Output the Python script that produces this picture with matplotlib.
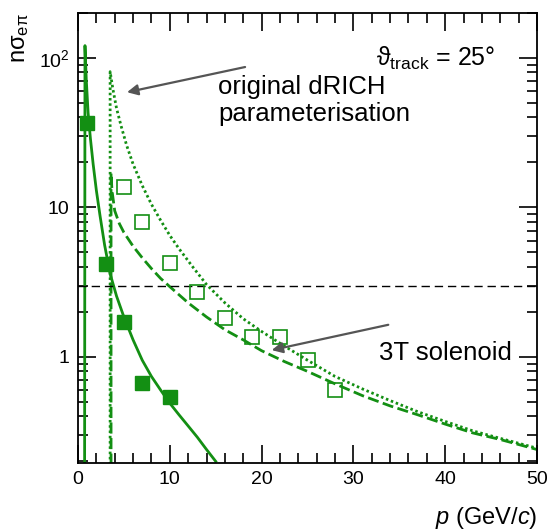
import matplotlib
matplotlib.use("Agg")
import matplotlib.pyplot as plt
from matplotlib.ticker import MultipleLocator, LogLocator, NullFormatter, FixedLocator, FixedFormatter

plt.rcParams['font.family'] = ['Liberation Sans', 'DejaVu Sans']
plt.rcParams['mathtext.fontset'] = 'custom'
plt.rcParams['mathtext.rm'] = 'Liberation Sans'
plt.rcParams['mathtext.it'] = 'Liberation Sans:italic'
plt.rcParams['mathtext.bf'] = 'Liberation Sans:bold'
plt.rcParams['mathtext.default'] = 'regular'

# solid curve (3T solenoid, lower threshold)
solid_p = [0.72, 0.76, 0.9, 1.1, 1.35, 1.65, 2.0, 2.4, 2.9, 3.5, 4.2, 5.0, 6.0,
           7.0, 8.0, 9.0, 10.0, 11.0, 12.0, 13.0, 14.0, 15.0]
solid_n = [0.19, 121, 72, 43, 29, 19.5, 13, 8.8, 5.6, 3.6, 2.55, 1.85, 1.3,
           0.95, 0.74, 0.6, 0.49, 0.41, 0.345, 0.29, 0.24, 0.2]

# dashed curve
dashed_p = [3.6, 3.6, 3.7, 4.0, 4.5, 5.0, 6.0, 7.0, 8.0, 9.0, 10.0, 12.0, 14.0,
            16.0, 18.0, 20.0, 22.5, 25.0, 28.0, 31.0, 34.0, 37.0, 40.0, 43.0,
            46.0, 50.0]
dashed_n = [0.19, 17, 13, 9.5, 7.8, 6.8, 5.5, 4.6, 3.9, 3.35, 2.95, 2.3, 1.85,
            1.52, 1.3, 1.1, 0.93, 0.8, 0.66, 0.55, 0.47, 0.41, 0.355, 0.31,
            0.28, 0.24]

# dotted curve (original dRICH parameterisation)
dotted_p = [3.5, 3.5, 3.8, 4.2, 4.7, 5.3, 6.0, 7.0, 8.0, 9.0, 10.0, 11.0, 12.5,
            14.0, 16.0, 18.0, 20.0, 22.5, 25.0, 28.0, 31.0, 34.0, 37.0, 40.0,
            43.0, 46.0, 50.0]
dotted_n = [0.19, 81, 62, 46, 35, 26, 19.5, 14, 10.5, 8.2, 6.5, 5.3, 4.0,
            3.05, 2.3, 1.8, 1.48, 1.18, 0.95, 0.74, 0.61, 0.51, 0.43, 0.37,
            0.32, 0.285, 0.245]

# filled squares
filled_p = [1, 3, 5, 7, 10]
filled_n = [37, 4.2, 1.7, 0.67, 0.54]

# open squares
open_p = [5, 7, 10, 13, 16, 19, 22, 25, 28]
open_n = [13.7, 8.0, 4.25, 2.72, 1.82, 1.36, 1.35, 0.95, 0.6]

threshold = 3.0
green = '#138f13'

fig = plt.figure(figsize=(5.52, 5.31), dpi=100)
ax = fig.add_axes([78 / 552, 1 - 463 / 531, 459 / 552, 450 / 531])

ax.plot(solid_p, solid_n, color=green, lw=2.0, ls='-')
ax.plot(dashed_p, dashed_n, color=green, lw=2.0, ls=(0, (4, 1.6)))
ax.plot(dotted_p, dotted_n, color=green, lw=2.0, ls=(0, (0.9, 1.0)))
ax.axhline(threshold, color='black', lw=1.0, ls=(0, (6, 3.5)))

ax.plot(filled_p, filled_n, ls='none', marker='s', ms=10.5, color=green)
ax.plot(open_p, open_n, ls='none', marker='s', ms=10, mfc='none',
        mec=green, mew=1.2)

ax.set_yscale('log')
ax.set_xlim(0, 50)
ax.set_ylim(0.195, 200)

ax.xaxis.set_major_locator(MultipleLocator(10))
ax.xaxis.set_minor_locator(MultipleLocator(2))
ax.yaxis.set_major_locator(FixedLocator([1, 10, 100]))
ax.yaxis.set_major_formatter(FixedFormatter(['1', '10', r'$10^2$']))
ax.yaxis.set_minor_locator(LogLocator(base=10, subs=range(2, 10)))
ax.yaxis.set_minor_formatter(NullFormatter())

ax.tick_params(which='both', direction='in', top=True, right=True,
               labelsize=14, width=1.2)
ax.tick_params(which='major', length=13, pad=6)
ax.tick_params(which='minor', length=7)
for s in ax.spines.values():
    s.set_linewidth(1.3)

ax.set_xlabel(r'$\it{p}$ (GeV/$\it{c}$)', fontsize=17, loc='right', labelpad=12)
ax.set_ylabel(r'n$σ_{eπ}$', fontsize=17, loc='top', labelpad=6)

ax.text(0.91, 0.9, r'$\vartheta_{track}$ = 25°', transform=ax.transAxes,
        fontsize=18, ha='right', va='center')
ax.text(0.305, 0.805, 'original dRICH\nparameterisation', transform=ax.transAxes,
        fontsize=18.5, ha='left', va='center', linespacing=1.15)
ax.text(0.655, 0.245, '3T solenoid', transform=ax.transAxes,
        fontsize=18.5, ha='left', va='center')

ax.annotate('', xy=(5.34, 59), xytext=(18.2, 87),
            arrowprops=dict(arrowstyle='-|>', color='#555555', lw=1.6,
                            mutation_scale=16, shrinkA=0, shrinkB=0))
ax.annotate('', xy=(21.1, 1.11), xytext=(33.8, 1.64),
            arrowprops=dict(arrowstyle='-|>', color='#555555', lw=1.6,
                            mutation_scale=16, shrinkA=0, shrinkB=0))

fig.savefig('out.png', dpi=100)
